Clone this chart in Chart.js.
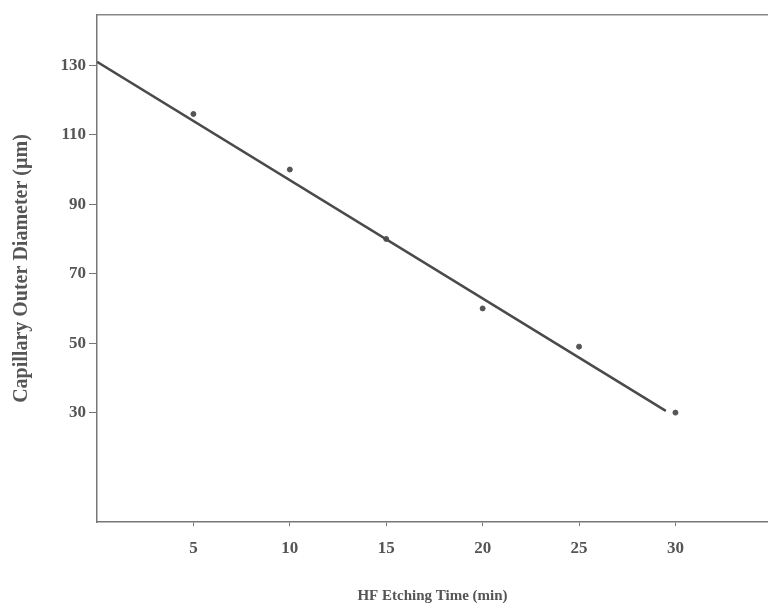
<!DOCTYPE html>
<html>
<head>
<meta charset="utf-8">
<script src="https://cdn.jsdelivr.net/npm/chart.js@4/dist/chart.umd.min.js"></script>
<style>
  html, body { margin: 0; padding: 0; background: #fff; overflow: hidden; }
  canvas { display: block; }
</style>
</head>
<body>
<canvas id="chart" width="768" height="609"></canvas>
<script>
// measured points
const etchTime = [5, 10, 15, 20, 25, 30];
const diameter = [116, 100, 80, 60, 49, 30];
// fitted line, ends
const fitTime = [0, 29.5];
const fitDiameter = [131, 30.5];
const xTicks = [5, 10, 15, 20, 25, 30];
const yTicks = [30, 50, 70, 90, 110, 130];

const ink = '#555';
const serif = '"Liberation Serif", "DejaVu Serif", serif';

const ctx = document.getElementById('chart').getContext('2d');
new Chart(ctx, {
  type: 'scatter',
  data: {
    datasets: [
      {
        label: 'fit',
        type: 'line',
        data: fitTime.map((t, i) => ({ x: t, y: fitDiameter[i] })),
        borderColor: '#4a4a4a',
        borderWidth: 2.5,
        pointRadius: 0,
        fill: false
      },
      {
        label: 'measured',
        data: etchTime.map((t, i) => ({ x: t, y: diameter[i] })),
        backgroundColor: '#555',
        borderColor: '#555',
        pointRadius: 2.5
      }
    ]
  },
  options: {
    responsive: false,
    animation: false,
    layout: { autoPadding: false, padding: { top: 15, right: 0, left: 0, bottom: 0 } },
    plugins: { legend: { display: false }, tooltip: { enabled: false } },
    scales: {
      x: {
        type: 'linear',
        min: 0,
        max: 34.8,
        afterBuildTicks: s => { s.ticks = xTicks.map(v => ({ value: v })); },
        afterFit: s => { s.height = 87; },
        border: { color: '#777', width: 1.5 },
        grid: { drawOnChartArea: false, drawTicks: true, tickLength: 4, color: '#777' },
        ticks: { color: ink, font: { family: serif, size: 17, weight: 'bold' }, padding: 12, maxRotation: 0 },
        title: {
          display: true,
          text: 'HF Etching Time (min)',
          color: ink,
          font: { family: serif, size: 15, weight: 'bold' },
          padding: { top: 20 }
        }
      },
      top: {
        type: 'linear',
        position: 'top',
        min: 0,
        max: 34.8,
        afterFit: s => { s.height = 0; },
        border: { color: '#888', width: 1.5 },
        grid: { display: false },
        ticks: { display: false }
      },
      y: {
        type: 'linear',
        min: -1.5,
        max: 144.5,
        afterBuildTicks: s => { s.ticks = yTicks.map(v => ({ value: v })); },
        afterFit: s => { s.width = 97; },
        border: { color: '#777', width: 1.5 },
        grid: { drawOnChartArea: false, drawTicks: true, tickLength: 8, color: '#777' },
        ticks: { color: ink, font: { family: serif, size: 17, weight: 'bold' }, padding: 3 },
        title: {
          display: true,
          text: 'Capillary Outer Diameter (\u00b5m)',
          color: ink,
          font: { family: serif, size: 20, weight: 'bold' },
          padding: { top: 10, bottom: 0 }
        }
      }
    }
  }
});
</script>
</body>
</html>
